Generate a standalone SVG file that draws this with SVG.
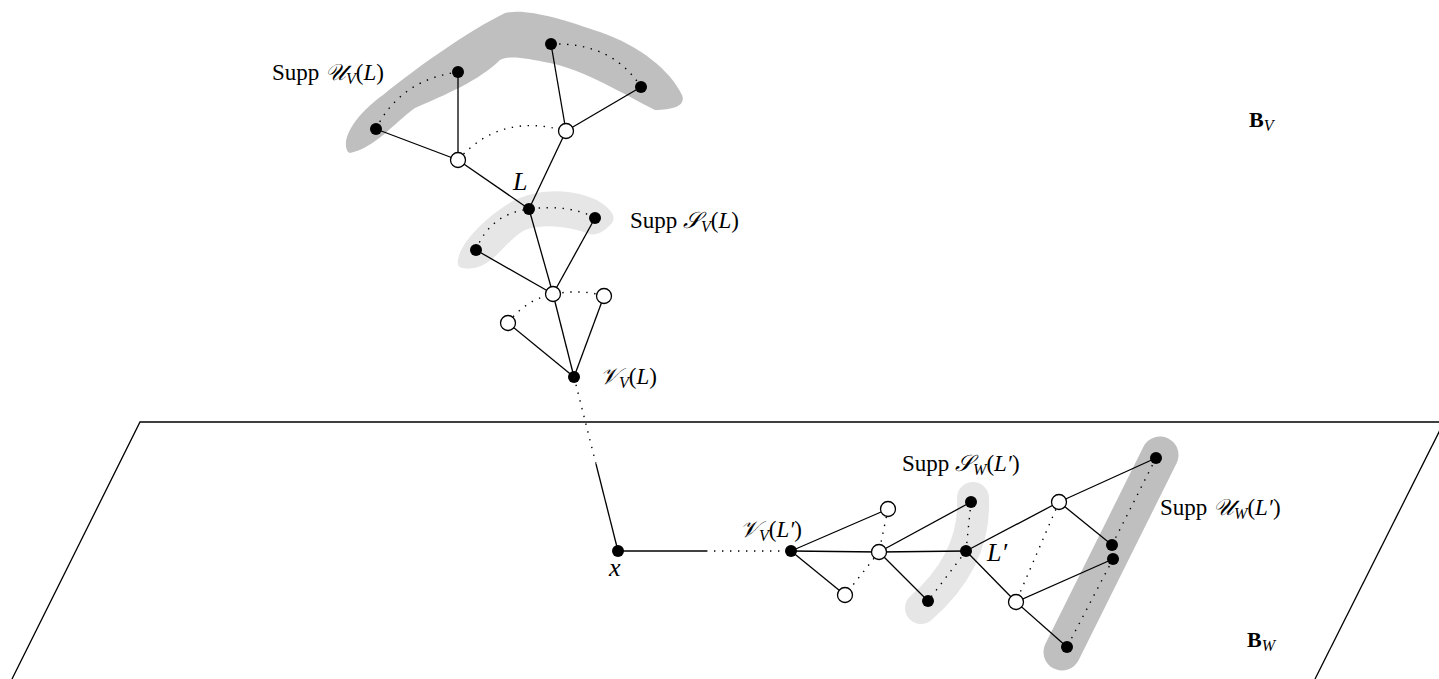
<svg xmlns="http://www.w3.org/2000/svg" width="1439" height="679" viewBox="0 0 1439 679">
<style>
.e{stroke:#000;stroke-width:1.3;fill:none}
.d{stroke:#000;stroke-width:1.4;fill:none;stroke-dasharray:1.4 6.6}
.b{fill:#000}
.w{fill:#fff;stroke:#000;stroke-width:1.3}
.t{font-family:"Liberation Serif","DejaVu Serif",serif;font-size:23px;fill:#000}
.i{font-style:italic}
.big{font-size:26px}
.bb{font-size:22px;font-weight:bold}
.s{font-size:16px;font-style:italic}
.c{font-family:"DejaVu Serif","Liberation Serif",serif;font-style:italic}
.dark{fill:#bfbfbf}
.light{fill:#e6e6e6}
.bandD{stroke:#bfbfbf;fill:none;stroke-linecap:round;stroke-linejoin:round}
.bandL{stroke:#e6e6e6;fill:none;stroke-linecap:round;stroke-linejoin:round}
</style>
<rect width="1439" height="679" fill="#fff"/>
<g id="plane">
<polyline points="12,679 140,422 1445,422" class="e" stroke-width="1"/>
<line x1="1315" y1="679" x2="1444" y2="422" class="e" stroke-width="1"/>
</g>
<g id="bands">
<path class="dark" d="M348,152 C340,140 355,115 383,95 C420,65 470,30 505,13 C525,8 560,18 600,32 C640,46 670,70 682,95 C686,105 675,110 655,110 C625,95 585,70 550,63 C525,58 510,55 500,60 C480,80 445,95 415,108 C395,122 375,148 350,153 Z"/>
<path class="light" d="M458,265 C455,250 480,220 513,201 C540,188 575,188 600,202 C612,210 618,218 610,225 C604,232 595,236 590,234 C575,228 545,222 525,230 C510,238 500,255 485,264 C475,270 460,270 458,265 Z"/>
<path class="bandL" stroke-width="32" d="M973,498 Q976,560 921,608"/>
<path class="bandD" stroke-width="37" d="M1160,455 L1062,652"/>
</g>
<g id="connectors">
<line class="e" x1="376" y1="129" x2="458" y2="160"/>
<line class="e" x1="458" y1="72" x2="458" y2="160"/>
<line class="e" x1="458" y1="160" x2="529" y2="209"/>
<line class="e" x1="551" y1="44" x2="566" y2="131"/>
<line class="e" x1="641" y1="87" x2="566" y2="131"/>
<line class="e" x1="566" y1="131" x2="529" y2="209"/>
<path class="d" d="M376,129 Q400,80 458,72"/>
<path class="d" d="M458,160 Q500,112 566,131"/>
<path class="d" d="M551,44 Q612,42 641,87"/>
<line class="e" x1="529" y1="209" x2="553" y2="294"/>
<line class="e" x1="595" y1="218" x2="553" y2="294"/>
<line class="e" x1="476" y1="250" x2="553" y2="294"/>
<line class="e" x1="553" y1="294" x2="574" y2="377"/>
<line class="e" x1="604" y1="296" x2="574" y2="377"/>
<line class="e" x1="508" y1="323" x2="574" y2="377"/>
<path class="d" d="M476,250 Q490,214 529,209 Q570,204 595,218"/>
<path class="d" d="M508,323 Q525,300 553,294 Q582,289 604,296"/>
<line class="d" x1="574" y1="377" x2="596" y2="464"/>
<line class="e" x1="596" y1="464" x2="618" y2="551"/>
<line class="e" x1="618" y1="551" x2="706" y2="551"/>
<line class="d" x1="706" y1="551" x2="791" y2="551"/>
<line class="e" x1="791" y1="551" x2="888" y2="509"/>
<line class="e" x1="791" y1="551" x2="879" y2="552"/>
<line class="e" x1="791" y1="551" x2="845" y2="595"/>
<line class="d" x1="888" y1="509" x2="879" y2="552"/>
<line class="d" x1="879" y1="552" x2="845" y2="595"/>
<line class="e" x1="879" y1="552" x2="971" y2="502"/>
<line class="e" x1="879" y1="552" x2="966" y2="551"/>
<line class="e" x1="879" y1="552" x2="928" y2="601"/>
<line class="d" x1="971" y1="502" x2="966" y2="551"/>
<line class="d" x1="966" y1="551" x2="928" y2="601"/>
<line class="e" x1="966" y1="551" x2="1059" y2="502"/>
<line class="e" x1="966" y1="551" x2="1016" y2="602"/>
<line class="e" x1="1059" y1="502" x2="1156" y2="458"/>
<line class="e" x1="1059" y1="502" x2="1112" y2="545"/>
<line class="e" x1="1016" y1="602" x2="1113" y2="559"/>
<line class="e" x1="1016" y1="602" x2="1067" y2="647"/>
<line class="d" x1="1059" y1="502" x2="1016" y2="602"/>
<line class="d" x1="1156" y1="458" x2="1112" y2="545"/>
<line class="d" x1="1113" y1="559" x2="1067" y2="647"/>
</g>
<g id="n1"><circle class="b" cx="376" cy="129" r="6"/></g>
<g id="n2"><circle class="b" cx="458" cy="72" r="6"/></g>
<g id="n3"><circle class="b" cx="551" cy="44" r="6"/></g>
<g id="n4"><circle class="b" cx="641" cy="87" r="6"/></g>
<g id="n5"><circle class="w" cx="458" cy="160" r="7.5"/></g>
<g id="n6"><circle class="w" cx="566" cy="131" r="7.5"/></g>
<g id="nL"><circle class="b" cx="529" cy="209" r="6"/></g>
<g id="n7"><circle class="b" cx="595" cy="218" r="6"/></g>
<g id="n8"><circle class="b" cx="476" cy="250" r="6"/></g>
<g id="n9"><circle class="w" cx="553" cy="294" r="7.5"/></g>
<g id="n10"><circle class="w" cx="604" cy="296" r="7.5"/></g>
<g id="n11"><circle class="w" cx="508" cy="323" r="7.5"/></g>
<g id="nVL"><circle class="b" cx="574" cy="377" r="6"/></g>
<g id="nx"><circle class="b" cx="618" cy="551" r="6"/></g>
<g id="nVL2"><circle class="b" cx="791" cy="551" r="6"/></g>
<g id="n12"><circle class="w" cx="888" cy="509" r="7.5"/></g>
<g id="n13"><circle class="w" cx="879" cy="552" r="7.5"/></g>
<g id="n14"><circle class="w" cx="845" cy="595" r="7.5"/></g>
<g id="n15"><circle class="b" cx="971" cy="502" r="6"/></g>
<g id="nL2"><circle class="b" cx="966" cy="551" r="6"/></g>
<g id="n16"><circle class="b" cx="928" cy="601" r="6"/></g>
<g id="n17"><circle class="w" cx="1059" cy="502" r="7.5"/></g>
<g id="n18"><circle class="w" cx="1016" cy="602" r="7.5"/></g>
<g id="n19"><circle class="b" cx="1156" cy="458" r="6"/></g>
<g id="n20"><circle class="b" cx="1112" cy="545" r="6"/></g>
<g id="n21"><circle class="b" cx="1113" cy="559" r="6"/></g>
<g id="n22"><circle class="b" cx="1067" cy="647" r="6"/></g>
<g id="labels">
<text class="t" x="272" y="80">Supp <tspan class="c">𝒰</tspan><tspan class="s" dy="4">V</tspan><tspan dy="-4">(</tspan><tspan class="i">L</tspan>)</text>
<text class="t" x="630" y="228">Supp <tspan class="c">𝒮</tspan><tspan class="s" dy="4">V</tspan><tspan dy="-4">(</tspan><tspan class="i">L</tspan>)</text>
<text class="t i big" x="513" y="190">L</text>
<text class="t" x="600" y="384"><tspan class="c">𝒱</tspan><tspan class="s" dy="4">V</tspan><tspan dy="-4">(</tspan><tspan class="i">L</tspan>)</text>
<text class="t" x="1249" y="127"><tspan class="bb">B</tspan><tspan class="s" dy="4">V</tspan></text>
<text class="t" x="740" y="537"><tspan class="c">𝒱</tspan><tspan class="s" dy="4">V</tspan><tspan dy="-4">(</tspan><tspan class="i">L′</tspan>)</text>
<text class="t i big" x="609" y="576">x</text>
<text class="t" x="902" y="471">Supp <tspan class="c">𝒮</tspan><tspan class="s" dy="4">W</tspan><tspan dy="-4">(</tspan><tspan class="i">L′</tspan>)</text>
<text class="t i big" x="987" y="561">L′</text>
<text class="t" x="1160" y="515">Supp <tspan class="c">𝒰</tspan><tspan class="s" dy="4">W</tspan><tspan dy="-4">(</tspan><tspan class="i">L′</tspan>)</text>
<text class="t" x="1247" y="647"><tspan class="bb">B</tspan><tspan class="s" dy="4">W</tspan></text>
</g>
</svg>
